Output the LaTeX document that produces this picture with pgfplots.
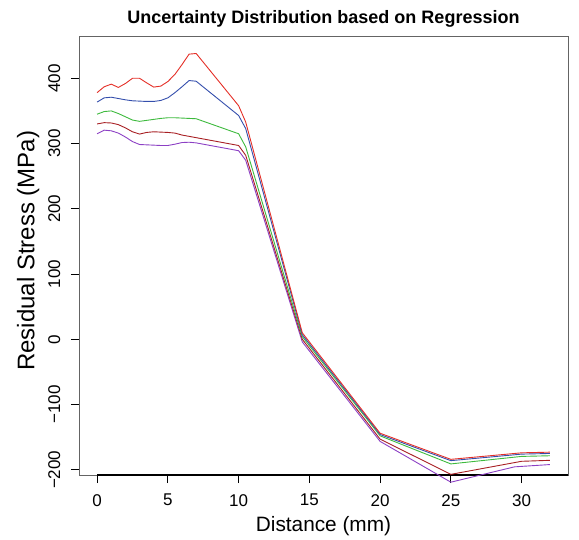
\documentclass[border=0pt]{standalone}
\usepackage{fontspec}
\setmainfont{Liberation Sans}
\usepackage{pgfplots}
\pgfplotsset{compat=1.18}
\definecolor{cred}{RGB}{228,48,40}
\definecolor{cblue}{RGB}{52,78,172}
\definecolor{cgreen}{RGB}{62,186,62}
\definecolor{cdred}{RGB}{168,32,36}
\definecolor{cpurp}{RGB}{140,64,196}
\definecolor{frame}{RGB}{100,100,100}
\begin{document}
\begin{tikzpicture}[x=1pt,y=1pt]
\useasboundingbox (0,0) rectangle (579,539);
\begin{axis}[
  at={(79pt,64pt)}, anchor=south west,
  scale only axis, width=489pt, height=439pt,
  xmin=-1.28, xmax=33.28, ymin=-208, ymax=464.8,
  clip=false,
  axis line style={draw=frame, line width=0.8pt},
  xtick={0,5,10,15,20,25,30},
  ytick={-200,-100,0,100,200,300,400},
  yticklabels={−200,−100,0,100,200,300,400},
  tick align=outside, tick pos=left, major tick length=8pt,
  tick style={black, line width=0.8pt},
  ticklabel style={font=\fontsize{17}{17}\selectfont},
  /pgf/number format/assume math mode=true,
  yticklabel style={xshift=-10.5pt, rotate=90, anchor=south, inner sep=0pt},
  xticklabel style={yshift=-11pt, anchor=north, inner sep=0pt},
  xlabel={Distance (mm)},
  ylabel={Residual Stress (MPa)},
  xlabel style={at={(axis description cs:0.5,-0.129)}, anchor=base, inner sep=0pt, font=\fontsize{20.8}{20.8}\selectfont},
  ylabel style={at={(axis description cs:-0.091,0.5107)}, anchor=base, inner sep=0pt, font=\fontsize{24}{24}\selectfont},
  title={Uncertainty Distribution based on Regression},
  title style={at={(axis description cs:0.5,1.0153)}, anchor=base, inner sep=0pt, font=\bfseries\fontsize{18}{18}\selectfont},
]
\addplot[black, line width=1.4pt] coordinates {(0,-208) (33.28,-208)};
\addplot[cpurp, line width=0.9pt] coordinates {
(0,315) (0.5,320.5) (1,319.5) (1.5,316) (2,310) (2.5,303) (3,298.5) (3.5,298) (4,297.5) (4.5,297) (5,297) (5.5,299) (6,301.5) (6.5,302) (7,301)
(10,289) (10.5,274.5) (14.5,-4) (20,-156.5) (25,-219) (29.5,-195.5) (32,-192)};
\addplot[cdred, line width=0.9pt] coordinates {
(0,330) (0.5,332) (1,331.5) (1.5,329) (2,324) (2.5,318) (3,314.5) (3.5,317) (4,318) (4.5,317.5) (5,317) (5.5,316) (6,313) (6.5,311) (7,309)
(10,297) (10.5,282) (14.5,0) (20,-153) (25,-207) (30,-187) (32,-185.5)};
\addplot[cgreen, line width=0.9pt] coordinates {
(0,345) (0.5,349) (1,350) (1.5,346) (2,341) (2.5,336) (3,334) (3.5,335.5) (4,337) (4.5,338.5) (5,339.5) (5.5,339.5) (6,339) (6.5,338.5) (7,338)
(10,315) (10.5,295) (14.5,4) (20,-148) (25,-191) (30,-179.5) (32,-178.5)};
\addplot[cblue, line width=0.9pt] coordinates {
(0,363.5) (0.5,370) (1,371) (1.5,369) (2,367) (2.5,365.5) (3,365) (3.5,364.5) (4,364.5) (4.5,366) (5,370) (5.5,378) (6,387) (6.5,396.5) (7,395.5)
(10,343) (10.5,323) (14.5,7) (20,-146) (25,-186) (30,-176) (32,-175)};
\addplot[cred, line width=0.9pt] coordinates {
(0,378) (0.5,387) (1,391) (1.5,386) (2,392) (2.5,400) (3,400) (3.5,393) (4,386.5) (4.5,388) (5,395) (5.5,406) (6,421) (6.5,437) (7,438)
(10,358) (10.5,333) (14.5,10) (20,-144) (25,-184) (30,-174) (32,-173)};
\end{axis}
\end{tikzpicture}
\end{document}
